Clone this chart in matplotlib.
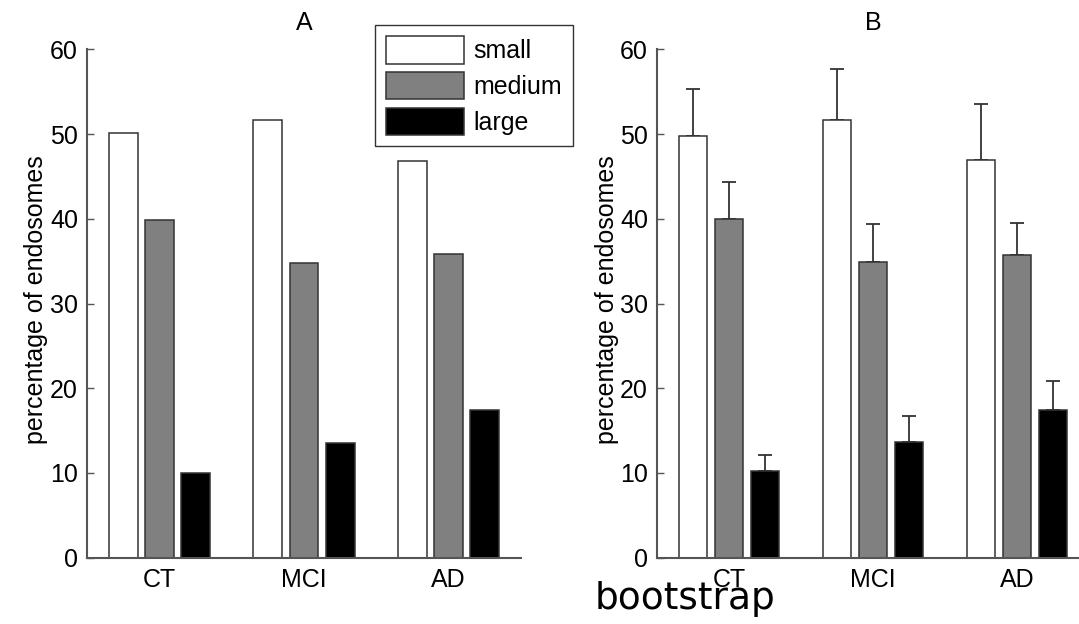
#!/usr/bin/python3

import numpy as np

import matplotlib
matplotlib.use('Agg')
from matplotlib import pyplot as plt
from matplotlib import patches as mpatches

# Endosome size distribution per group
groups  = ['CT', 'MCI', 'AD']
sizes   = ['small', 'medium', 'large']
colors  = ['white', '#808080', 'black']

# Panel A: raw percentages
pct_a_small  = [50.1, 51.7, 46.8]
pct_a_medium = [39.9, 34.8, 35.8]
pct_a_large  = [10.0, 13.5, 17.4]

# Panel B: bootstrap means and upper error bounds
pct_b_small  = [49.8, 51.6, 46.9]
pct_b_medium = [40.0, 34.9, 35.7]
pct_b_large  = [10.2, 13.7, 17.4]
err_b_small  = [5.5, 6.1, 6.7]
err_b_medium = [4.3, 4.5, 3.8]
err_b_large  = [1.9, 3.0, 3.4]

yticks = [0, 10, 20, 30, 40, 50, 60]

W, H = 1079, 624
FONT = 'Liberation Sans'
FS   = 18

def draw_panel(ax, title, values, errors=None):

    x = np.arange(1, len(groups) + 1)
    for k in range(len(sizes)):
        xs = x + (k - 1) * 0.25
        ax.bar(xs, values[k], width=0.2, color=colors[k],
               edgecolor='#333333', linewidth=1.1, zorder=2)
        if errors is not None:
            lower = np.zeros(len(groups))
            ax.errorbar(xs, values[k], yerr=[lower, errors[k]], fmt='none',
                        ecolor='#333333', elinewidth=1.3, capsize=5,
                        capthick=1.3, zorder=1)

    ax.set_xlim(0.5, 3.5)
    ax.set_ylim(0, 60)
    ax.set_xticks(x)
    ax.set_xticklabels(groups, fontsize=FS, family=FONT)
    ax.set_yticks(yticks)
    ax.set_yticklabels([str(v) for v in yticks], fontsize=FS, family=FONT)
    ax.tick_params(axis='x', length=0, pad=7.5)
    ax.tick_params(axis='y', direction='in', length=5, width=1,
                   color='#555555', pad=6.5)
    for side in ['top', 'right']:
        ax.spines[side].set_visible(False)
    for side in ['left', 'bottom']:
        ax.spines[side].set_color('#555555')
        ax.spines[side].set_linewidth(1.5)
    ax.set_title(title, fontsize=FS, family=FONT, pad=14)

def main():

    fig = plt.figure(figsize=(W / 100, H / 100), dpi=100)

    # Axes placed to match the reference layout
    ax_a = fig.add_axes([87 / W, 1 - 557.7 / H, 434 / W, 508.4 / H])
    ax_b = fig.add_axes([657 / W, 1 - 557.7 / H, 432 / W, 508.4 / H])

    draw_panel(ax_a, 'A', [pct_a_small, pct_a_medium, pct_a_large])
    draw_panel(ax_b, 'B', [pct_b_small, pct_b_medium, pct_b_large],
               [err_b_small, err_b_medium, err_b_large])

    # Y labels
    for xpix in [36, 607]:
        fig.text(xpix / W, 1 - 300 / H, 'percentage of endosomes',
                 rotation=90, ha='center', va='center', fontsize=FS,
                 family=FONT)

    # Legend
    handles = [mpatches.Patch(facecolor=c, edgecolor='#333333', linewidth=1.1)
               for c in colors]
    leg = fig.legend(handles, sizes, loc='upper left',
                     bbox_to_anchor=(375 / W, 1 - 25 / H),
                     prop={'family': FONT, 'size': FS}, frameon=True,
                     fancybox=False, edgecolor='#333333', framealpha=1,
                     handlelength=3.12, handleheight=1.3, handletextpad=0.36,
                     labelspacing=0.34, borderpad=0.45, borderaxespad=0)
    leg.get_frame().set_linewidth(1.0)

    fig.text(685 / W, 1 - 609 / H, 'bootstrap', ha='center', va='baseline',
             fontsize=27, family='DejaVu Sans')

    fname = 'out.png'
    print('Writing %s' % (fname))
    fig.savefig(fname, dpi=100)
    plt.close(fig)

if __name__ == '__main__': main()
